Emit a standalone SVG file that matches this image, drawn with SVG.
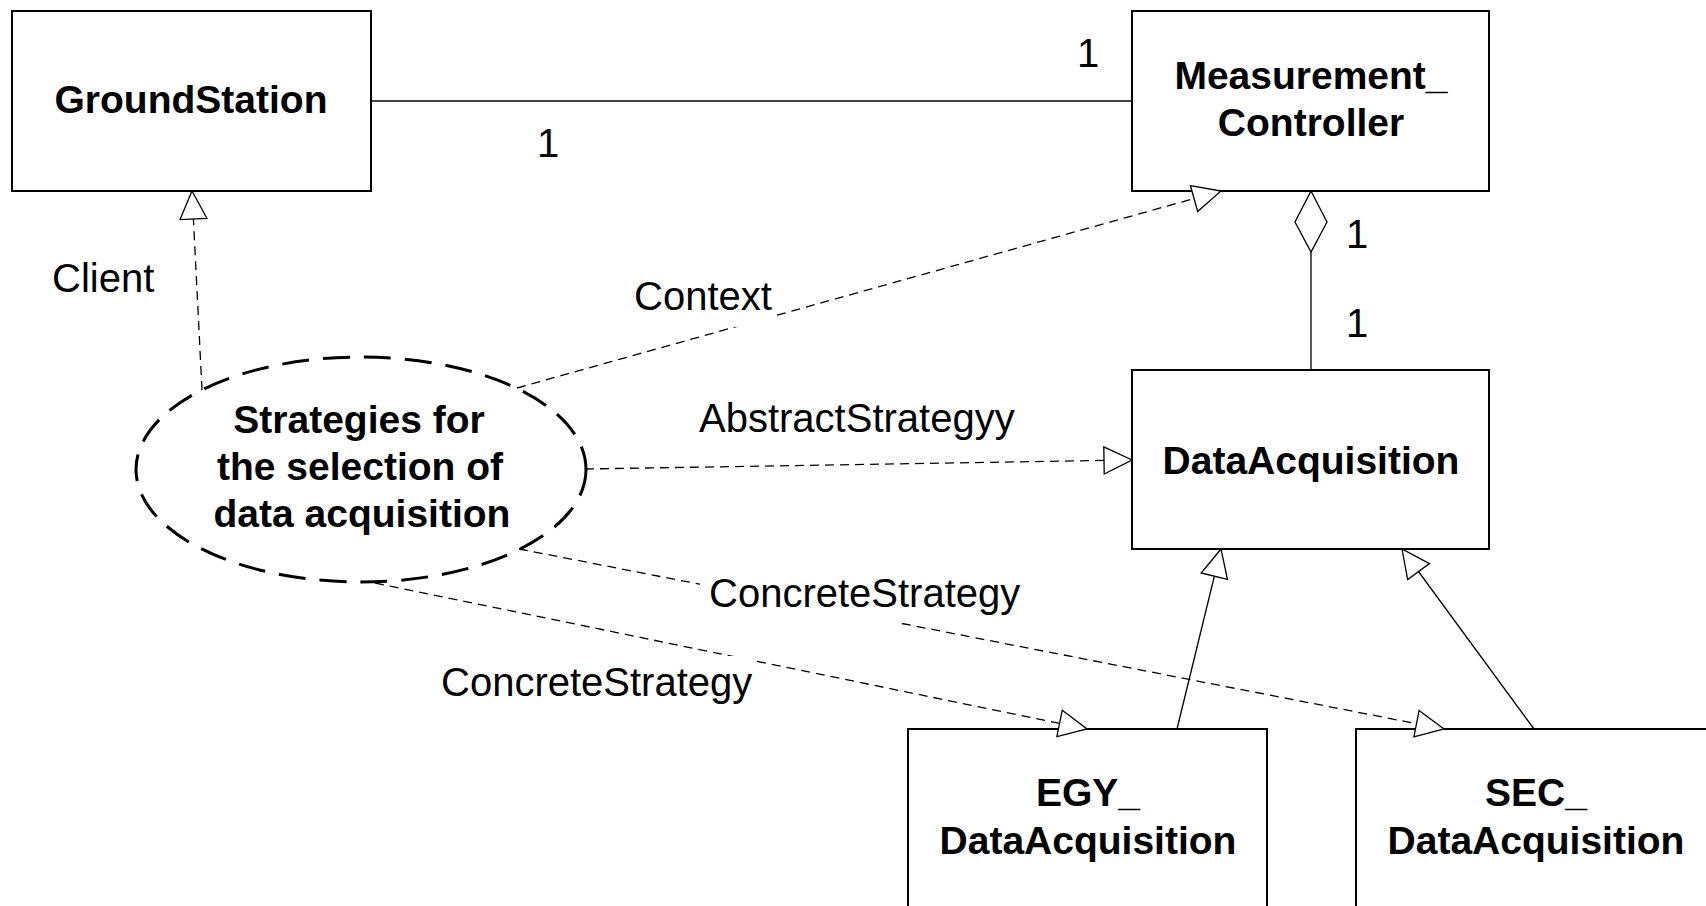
<svg xmlns="http://www.w3.org/2000/svg" width="1706" height="906" viewBox="0 0 1706 906">
<style>
.box{fill:#fff;stroke:#000;stroke-width:2}
.ell{fill:#fff;stroke:#000;stroke-width:3;stroke-dasharray:27 14}
.bold{font-family:"Liberation Sans",Arial,sans-serif;font-weight:bold;font-size:39px;text-anchor:middle;fill:#000}
.lbl{font-family:"Liberation Sans",Arial,sans-serif;font-size:40px;fill:#000}
.mult{font-family:"Liberation Sans",Arial,sans-serif;font-size:40px;text-anchor:middle;fill:#000}
.dash{fill:none;stroke:#000;stroke-width:1.3;stroke-dasharray:9 6}
.solid{fill:none;stroke:#000;stroke-width:1.3}
.bg{fill:#fff}
</style>
<defs>
<marker id="tri" markerUnits="userSpaceOnUse" viewBox="-2 -2 32 31" markerWidth="32" markerHeight="31" refX="28" refY="13.5" orient="auto">
<path d="M0,0 L28,13.5 L0,27 Z" fill="#fff" stroke="#000" stroke-width="1.3" stroke-linejoin="miter"/>
</marker>
</defs>
<rect width="1706" height="906" fill="#fff"/>

<g id="GroundStation">
<rect class="box" x="12" y="11" width="359" height="180"/>
<text class="bold" x="191" y="113">GroundStation</text>
</g>
<g id="Measurement_Controller">
<rect class="box" x="1132" y="11" width="357" height="180"/>
<text class="bold" x="1311" y="89">Measurement_</text>
<text class="bold" x="1311" y="136">Controller</text>
</g>
<g id="DataAcquisition">
<rect class="box" x="1132" y="370" width="357" height="179"/>
<text class="bold" x="1311" y="474">DataAcquisition</text>
</g>
<g id="EGY_DataAcquisition">
<rect class="box" x="908" y="729" width="359" height="200"/>
<text class="bold" x="1088" y="806">EGY_</text>
<text class="bold" x="1088" y="854">DataAcquisition</text>
</g>
<g id="SEC_DataAcquisition">
<rect class="box" x="1356" y="729" width="380" height="200"/>
<text class="bold" x="1536" y="806">SEC_</text>
<text class="bold" x="1536" y="854">DataAcquisition</text>
</g>
<g id="Strategies">
<ellipse class="ell" cx="361" cy="469.5" rx="225" ry="112.5"/>
<text class="bold" x="359" y="433">Strategies for</text>
<text class="bold" x="360" y="480">the selection of</text>
<text class="bold" x="362" y="527">data acquisition</text>
</g>

<g id="connectors">
<line class="solid" x1="371" y1="101" x2="1132" y2="101"/>
<text class="mult" x="548" y="157">1</text>
<text class="mult" x="1088" y="67">1</text>

<path class="solid" d="M1311,191 L1327,222 L1311,252 L1295,222 Z" fill="#fff"/>
<line class="solid" x1="1311" y1="252" x2="1311" y2="370"/>
<text class="mult" x="1357" y="248">1</text>
<text class="mult" x="1357" y="337">1</text>

<line class="dash" x1="202" y1="390" x2="192" y2="191" marker-end="url(#tri)"/>
<text class="lbl" x="52" y="292">Client</text>

<line class="dash" x1="517" y1="388" x2="1221" y2="191" marker-end="url(#tri)"/>
<rect class="bg" x="630" y="272" width="143" height="55"/>
<text class="lbl" x="634" y="310">Context</text>

<line class="dash" x1="585" y1="469" x2="1132" y2="460" marker-end="url(#tri)"/>
<rect class="bg" x="695" y="394" width="326" height="52"/>
<text class="lbl" x="699" y="432">AbstractStrategyy</text>

<line class="dash" x1="519" y1="549" x2="1444" y2="729" marker-end="url(#tri)"/>
<rect class="bg" x="700" y="569" width="326" height="54"/>
<text class="lbl" x="709" y="607">ConcreteStrategy</text>

<line class="dash" x1="375" y1="583" x2="1087" y2="729" marker-end="url(#tri)"/>
<rect class="bg" x="437" y="656" width="317" height="56"/>
<text class="lbl" x="441" y="696">ConcreteStrategy</text>

<line class="solid" x1="1177" y1="729" x2="1221" y2="549" marker-end="url(#tri)"/>
<line class="solid" x1="1534" y1="729" x2="1402" y2="549" marker-end="url(#tri)"/>
</g>
</svg>
